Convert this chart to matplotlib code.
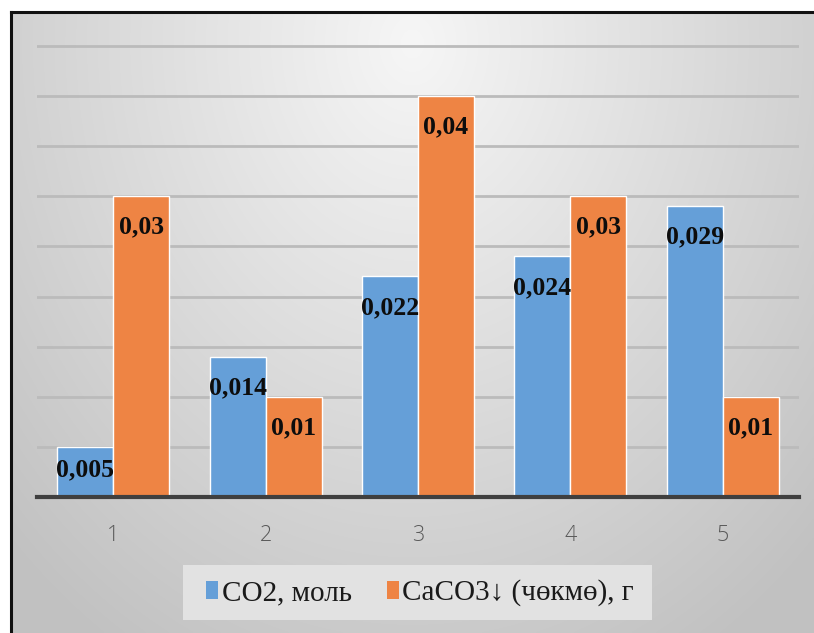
import numpy as np
import matplotlib
matplotlib.use("Agg")
import matplotlib.pyplot as plt
from matplotlib.patches import Patch, Rectangle
from matplotlib.lines import Line2D

# ---- data ----
categories = ["1", "2", "3", "4", "5"]
co2_values = [0.005, 0.014, 0.022, 0.024, 0.029]
caco3_values = [0.03, 0.01, 0.04, 0.03, 0.01]
co2_labels = ["0,005", "0,014", "0,022", "0,024", "0,029"]
caco3_labels = ["0,03", "0,01", "0,04", "0,03", "0,01"]
series_names = ["CO2, моль", "CaCO3↓ (чөкмө), г"]

W, H = 814, 633
DPI = 100
fig = plt.figure(figsize=(W / DPI, H / DPI), dpi=DPI)
fig.patch.set_facecolor("white")

def fx(px):
    return px / W

def fy(py):
    return 1 - py / H

# ---- background gradient (chart frame) ----
frame_l, frame_t = 11, 12
bg_ax = fig.add_axes([fx(frame_l), 0, 1 - fx(frame_l), fy(frame_t)])
bg_ax.set_axis_off()
nx, ny = 400, 300
xx, yy = np.meshgrid(np.linspace(0, 1, nx), np.linspace(0, 1, ny))
r = np.sqrt(((xx - 0.5) / 0.62) ** 2 + ((yy - 0.05) / 1.0) ** 2)
vals = np.clip(0.965 - 0.18 * r, 0.76, 0.97)
bg_ax.imshow(np.dstack([vals, vals, vals]), aspect="auto", extent=[0, 1, 1, 0],
             interpolation="bilinear")
bg_ax.set_xlim(0, 1)
bg_ax.set_ylim(1, 0)

# frame border (top and left)
fig.add_artist(Line2D([fx(frame_l), 1], [fy(frame_t), fy(frame_t)],
                      color="#111111", lw=2.2, transform=fig.transFigure))
fig.add_artist(Line2D([fx(frame_l), fx(frame_l)], [fy(frame_t), 0],
                      color="#111111", lw=2.2, transform=fig.transFigure))

# ---- main axes ----
plot_l, plot_r, plot_b, plot_t = 37, 799, 497, 45
ax = fig.add_axes([fx(plot_l), fy(plot_b), fx(plot_r - plot_l), (plot_b - plot_t) / H])
ax.set_facecolor("none")
ymax = 0.045
ax.set_ylim(0, ymax * 1.002)
n = len(categories)
ax.set_xlim(0.5, n + 0.5)
x = np.arange(1, n + 1)
w = 0.367

blue = "#659FD8"
orange = "#EE8444"
ax.set_yticks(np.arange(0.005, ymax + 1e-9, 0.005))
ax.yaxis.grid(True, color="#BBBBBB", lw=2.0)
ax.set_axisbelow(True)
ax.tick_params(axis="y", left=False, labelleft=False)
for s in ["left", "right", "top"]:
    ax.spines[s].set_visible(False)
ax.spines["bottom"].set_color("#3F3F3F")
ax.spines["bottom"].set_linewidth(3.0)
ax.spines["bottom"].set_zorder(5)

b1 = ax.bar(x - w / 2, co2_values, w, color=blue, edgecolor="white", lw=1.0, zorder=3)
b2 = ax.bar(x + w / 2, caco3_values, w, color=orange, edgecolor="white", lw=1.0, zorder=3)

ax.set_xticks(x)
ax.set_xticklabels(categories)
ax.tick_params(axis="x", length=0, pad=20, labelsize=15.5, labelcolor="#595959")
for t in ax.get_xticklabels():
    t.set_fontfamily(["Open Sans", "DejaVu Sans"])
    t.set_fontweight("light")

px_per_unit = (plot_b - plot_t) / (ymax * 1.002)
lab_font = dict(family=["Liberation Serif", "DejaVu Serif"], weight="bold", size=18.5, color="#0D0D0D")
for bars, labels in [(b1, co2_labels), (b2, caco3_labels)]:
    for rect, lab in zip(bars, labels):
        h = rect.get_height()
        off = min(31, h * px_per_unit * 0.45)
        ax.annotate(lab, (rect.get_x() + rect.get_width() / 2, h),
                    xytext=(0, -off), textcoords="offset pixels",
                    ha="center", va="center", zorder=6, **lab_font)

# ---- legend ----
fig.add_artist(Rectangle((fx(183), fy(620)), fx(652 - 183), (620 - 565) / H,
                         transform=fig.transFigure, facecolor="#E2E2E2",
                         edgecolor="none", zorder=2))
handles = [Patch(facecolor=blue, edgecolor="none"), Patch(facecolor=orange, edgecolor="none")]
leg = fig.legend(handles, series_names, loc="center",
                 bbox_to_anchor=(fx(420), fy(593)), ncol=2, frameon=False,
                 prop=dict(family=["Liberation Serif", "DejaVu Serif"], size=21),
                 handlelength=0.42, handleheight=0.6, handletextpad=0.12,
                 columnspacing=1.2, borderpad=0)
for t in leg.get_texts():
    t.set_color("#1A1A1A")
leg.set_zorder(3)

fig.savefig("out.png", dpi=DPI, facecolor=fig.get_facecolor())
